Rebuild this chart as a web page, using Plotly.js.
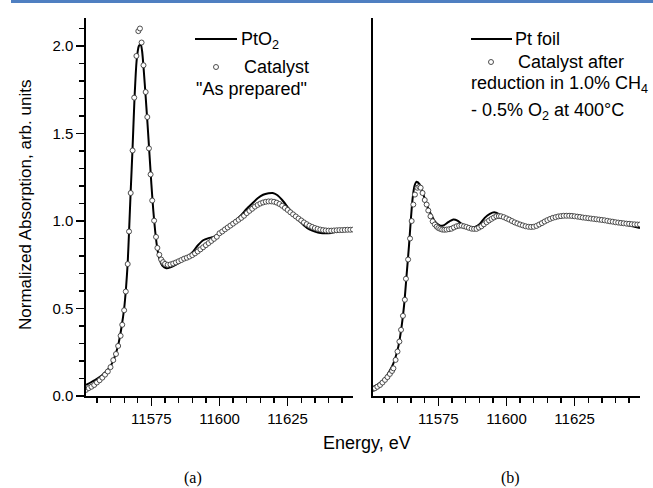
<!DOCTYPE html>
<html>
<head>
<meta charset="utf-8">
<script src="https://cdn.plot.ly/plotly-3.0.1.min.js"></script>
<style>html,body{margin:0;padding:0;background:#fff;}#chart{width:653px;height:488px;}</style>
</head>
<body>
<div id="chart"></div>
<script>
// ---- Panel (a): PtO2 reference (line) ----
const ptO2_x = [11551,11553,11555,11557,11559,11560.5,11562,11563,11564,11565,11565.7,11566.3,11566.8,11567.4,11568.1,11568.8,11569.6,11570.4,11571.1,11571.6,11572.2,11572.9,11573.6,11574.3,11575,11575.7,11576.4,11577.2,11578,11579,11580.5,11582,11584,11586,11588,11590,11592,11594,11596,11598,11600,11602,11604,11606,11608,11610,11612,11614,11616,11618,11619.5,11621,11623,11625,11627,11629,11631,11633,11635,11637,11639,11641,11643,11645,11647,11649];
const ptO2_y = [0.063,0.08,0.098,0.12,0.15,0.185,0.245,0.305,0.39,0.5,0.62,0.76,0.94,1.17,1.42,1.70,1.92,2.0,2.01,1.97,1.86,1.71,1.55,1.38,1.21,1.06,0.94,0.84,0.78,0.745,0.73,0.735,0.75,0.77,0.79,0.82,0.86,0.89,0.902,0.91,0.93,0.955,0.98,1.005,1.035,1.07,1.1,1.13,1.15,1.158,1.16,1.15,1.12,1.08,1.04,1.005,0.975,0.952,0.94,0.932,0.93,0.932,0.938,0.944,0.948,0.95];

// ---- Panel (a): catalyst "as prepared" (circles) ----
const catA_x = [11551,11552,11553,11554,11555,11556,11557,11558,11559,11560,11561,11562,11562.8,11563.7,11564.3,11565,11565.6,11566.3,11566.8,11567.4,11568.1,11568.7,11569.5,11570.2,11570.8,11571.4,11572.1,11572.9,11573.5,11574.1,11574.7,11575.3,11576,11576.7,11577.2,11577.9,11578.6,11579.3,11580,11581,11582,11583,11584,11585,11586,11587,11588,11589,11590,11591,11592,11593,11594,11595,11596,11597,11598,11599,11600,11601,11602,11603,11604,11605,11606,11607,11608,11609,11610,11611,11612,11613,11614,11615,11616,11617,11618,11619,11620,11621,11622,11623,11624,11625,11626,11627,11628,11629,11630,11631,11632,11633,11634,11635,11636,11637,11638,11639,11640,11641,11642,11643,11644,11645,11646,11647,11648,11649];
const catA_y = [0.035,0.045,0.053,0.063,0.077,0.09,0.105,0.122,0.14,0.165,0.205,0.24,0.286,0.344,0.407,0.49,0.597,0.754,0.94,1.16,1.403,1.705,1.943,2.085,2.10,2.02,1.89,1.737,1.594,1.415,1.266,1.117,1.002,0.909,0.846,0.807,0.78,0.765,0.755,0.75,0.752,0.757,0.763,0.77,0.777,0.785,0.79,0.797,0.805,0.815,0.826,0.838,0.85,0.862,0.874,0.886,0.898,0.91,0.93,0.94,0.952,0.963,0.974,0.985,0.996,1.007,1.018,1.03,1.045,1.058,1.07,1.082,1.092,1.1,1.106,1.11,1.112,1.112,1.11,1.105,1.097,1.087,1.075,1.063,1.05,1.038,1.026,1.014,1.003,0.992,0.982,0.973,0.966,0.96,0.955,0.951,0.948,0.946,0.945,0.945,0.946,0.947,0.948,0.948,0.949,0.95,0.95,0.951];

// ---- Panel (b): Pt foil reference (line) ----
const ptFoil_x = [11551,11553,11555.4,11557,11558.5,11560.3,11561.5,11562.5,11563.3,11564.2,11564.9,11565.5,11566.2,11567,11568.2,11569.5,11570.7,11572.3,11573.7,11575.5,11576.8,11578.6,11580.5,11582,11583.5,11586,11588.4,11590.2,11592,11593.9,11595.5,11597.5,11599.4,11602,11604.3,11606.5,11609.1,11612,11615.2,11618.5,11622.6,11626,11629.9,11633,11636,11639,11642.1,11645.5,11649];
const ptFoil_y = [0.05,0.068,0.10,0.14,0.187,0.282,0.397,0.531,0.683,0.855,1.008,1.122,1.199,1.224,1.208,1.151,1.094,1.037,0.998,0.974,0.974,0.993,1.008,1.002,0.983,0.966,0.966,0.983,1.018,1.041,1.05,1.037,1.018,0.998,0.985,0.972,0.966,0.982,1.008,1.026,1.037,1.032,1.021,1.012,1.004,0.995,0.985,0.973,0.96];

// ---- Panel (b): catalyst after reduction (circles) ----
const catB_x = [11551,11551.7,11552.6,11553.6,11554.5,11555.4,11556.3,11557.2,11558,11558.5,11559.3,11560,11560.7,11561.3,11562,11562.7,11563.1,11563.9,11564.6,11565.2,11565.8,11566.4,11567.3,11568,11568.5,11569.2,11570,11570.7,11571.3,11572.1,11572.9,11573.7,11574.4,11575,11575.7,11576.4,11577.2,11578,11578.9,11579.8,11580.7,11581.7,11582.6,11583.5,11584.4,11585.3,11586.2,11587.2,11588.1,11589,11589.9,11590.8,11591.7,11592.7,11593.6,11594.5,11595.4,11596.3,11597.2,11598,11599,11600,11601,11602,11603,11604,11605,11606,11607,11608,11609,11610,11611,11612,11613,11614,11615,11616,11617,11618,11619,11620,11621,11622,11623,11624,11625,11626,11627,11628,11629,11630,11631,11632,11633,11634,11635,11636,11637,11638,11639,11640,11641,11642,11643,11644,11645,11646,11647,11648,11649];
const catB_y = [0.04,0.044,0.053,0.063,0.077,0.092,0.108,0.126,0.143,0.158,0.206,0.254,0.311,0.378,0.458,0.55,0.67,0.78,0.90,1.0,1.094,1.151,1.19,1.195,1.19,1.16,1.12,1.094,1.06,1.027,0.998,0.98,0.968,0.96,0.955,0.951,0.95,0.951,0.953,0.956,0.963,0.97,0.973,0.974,0.97,0.966,0.961,0.956,0.955,0.955,0.962,0.97,0.981,0.993,1.003,1.012,1.02,1.027,1.028,1.027,1.022,1.015,1.008,1.0,0.992,0.986,0.98,0.975,0.97,0.967,0.966,0.967,0.972,0.98,0.988,0.997,1.005,1.012,1.018,1.022,1.026,1.028,1.03,1.03,1.03,1.029,1.027,1.025,1.023,1.02,1.018,1.016,1.014,1.012,1.01,1.008,1.006,1.004,1.001,0.998,0.996,0.993,0.991,0.989,0.987,0.985,0.984,0.982,0.981,0.98,0.98];

// ---- Axis / tick settings ----
const xRange = [11551, 11649];
const yRange = [0, 2.16];
const xMajorStart = 11575, xMajorStep = 25, xMinorStep = 5;
const yMajorStep = 0.5, yMinorStep = 0.1;

const FONT = 'Liberation Sans, Arial, sans-serif';
const lineStyle = {color: '#000', width: 2, shape: 'spline', smoothing: 0.6};
const markerStyle = {symbol: 'circle', size: 5, color: '#fff', line: {color: '#3a3a3a', width: 0.9}};

const traces = [
  {x: ptO2_x, y: ptO2_y, type: 'scatter', mode: 'lines', line: lineStyle, xaxis: 'x', yaxis: 'y', name: 'PtO2'},
  {x: catA_x, y: catA_y, type: 'scatter', mode: 'markers', marker: markerStyle, xaxis: 'x', yaxis: 'y', name: 'Catalyst'},
  {x: ptFoil_x, y: ptFoil_y, type: 'scatter', mode: 'lines', line: lineStyle, xaxis: 'x2', yaxis: 'y2', name: 'Pt foil'},
  {x: catB_x, y: catB_y, type: 'scatter', mode: 'markers', marker: markerStyle, xaxis: 'x2', yaxis: 'y2', name: 'Catalyst after'}
];

function xAxis(domain, anchor) {
  return {
    domain: domain, anchor: anchor, range: xRange,
    showline: true, linecolor: '#000', linewidth: 1.6, mirror: false,
    showgrid: false, zeroline: false,
    ticks: 'outside', ticklen: 8, tickwidth: 1.3, tickcolor: '#000',
    tickmode: 'linear', tick0: xMajorStart, dtick: xMajorStep, tickformat: 'd',
    minor: {ticks: 'outside', ticklen: 5, tickwidth: 1.3, tickcolor: '#000', dtick: xMinorStep, tick0: xMajorStart, showgrid: false},
    tickfont: {family: FONT, size: 15, color: '#000'}
  };
}

const P = (px) => (px - 86) / 554;      // pixel -> paper x
const Q = (py) => (396 - py) / 378;     // pixel -> paper y

const layout = {
  width: 653, height: 488,
  margin: {l: 86, r: 13, t: 18, b: 92},
  paper_bgcolor: '#fff', plot_bgcolor: '#fff',
  showlegend: false,
  xaxis: xAxis([0, 0.482], 'y'),
  xaxis2: xAxis([0.518, 1], 'y2'),
  yaxis: {
    domain: [0, 1], anchor: 'x', range: yRange,
    showline: true, linecolor: '#000', linewidth: 1.6,
    showgrid: false, zeroline: false,
    ticks: 'outside', ticklen: 8, tickwidth: 1.3, tickcolor: '#000',
    tickmode: 'linear', tick0: 0, dtick: yMajorStep, tickformat: '.1f',
    minor: {ticks: 'outside', ticklen: 5, tickwidth: 1.3, tickcolor: '#000', dtick: yMinorStep, tick0: 0, showgrid: false},
    tickfont: {family: FONT, size: 15, color: '#000'}
  },
  yaxis2: {
    domain: [0, 1], anchor: 'x2', matches: 'y', range: yRange,
    showline: true, linecolor: '#000', linewidth: 1.6,
    showgrid: false, zeroline: false, ticks: '', showticklabels: false
  },
  shapes: [
    // top blue rule
    {type: 'line', xref: 'paper', yref: 'paper', x0: P(11), x1: P(653), y0: Q(1.5), y1: Q(1.5), line: {color: '#4f7fc1', width: 3}},
    // legend samples, panel (a)
    {type: 'line', xref: 'paper', yref: 'paper', x0: P(195), x1: P(237), y0: Q(39), y1: Q(39), line: {color: '#000', width: 2}},
    {type: 'circle', xref: 'paper', yref: 'paper', x0: P(213.5), x1: P(218.5), y0: Q(69.5), y1: Q(64.5), line: {color: '#3a3a3a', width: 0.9}, fillcolor: '#fff'},
    // legend samples, panel (b)
    {type: 'line', xref: 'paper', yref: 'paper', x0: P(471), x1: P(512), y0: Q(39), y1: Q(39), line: {color: '#000', width: 2}},
    {type: 'circle', xref: 'paper', yref: 'paper', x0: P(488.5), x1: P(493.5), y0: Q(64.5), y1: Q(59.5), line: {color: '#3a3a3a', width: 0.9}, fillcolor: '#fff'}
  ],
  annotations: [
    {text: 'PtO<sub>2</sub>', xref: 'paper', yref: 'paper', x: P(239), y: Q(40), xanchor: 'left', yanchor: 'middle', showarrow: false, font: {family: FONT, size: 18, color: '#000'}},
    {text: 'Catalyst', xref: 'paper', yref: 'paper', x: P(242), y: Q(67), xanchor: 'left', yanchor: 'middle', showarrow: false, font: {family: FONT, size: 18, color: '#000'}},
    {text: '"As prepared"', xref: 'paper', yref: 'paper', x: P(194), y: Q(89), xanchor: 'left', yanchor: 'middle', showarrow: false, font: {family: FONT, size: 18, color: '#000'}},
    {text: 'Pt foil', xref: 'paper', yref: 'paper', x: P(513), y: Q(39), xanchor: 'left', yanchor: 'middle', showarrow: false, font: {family: FONT, size: 18, color: '#000'}},
    {text: 'Catalyst after', xref: 'paper', yref: 'paper', x: P(516), y: Q(62), xanchor: 'left', yanchor: 'middle', showarrow: false, font: {family: FONT, size: 18, color: '#000'}},
    {text: 'reduction in 1.0% CH<sub>4</sub>', xref: 'paper', yref: 'paper', x: P(469), y: Q(85), xanchor: 'left', yanchor: 'middle', showarrow: false, font: {family: FONT, size: 18, color: '#000'}},
    {text: '- 0.5% O<sub>2</sub> at 400°C', xref: 'paper', yref: 'paper', x: P(469), y: Q(111), xanchor: 'left', yanchor: 'middle', showarrow: false, font: {family: FONT, size: 18, color: '#000'}},
    {text: 'Normalized Absorption, arb. units', xref: 'paper', yref: 'paper', x: P(26), y: Q(205), xanchor: 'center', yanchor: 'middle', textangle: -90, showarrow: false, font: {family: FONT, size: 17, color: '#000'}},
    {text: 'Energy, eV', xref: 'paper', yref: 'paper', x: P(367), y: Q(443), xanchor: 'center', yanchor: 'middle', showarrow: false, font: {family: FONT, size: 18, color: '#000'}},
    {text: '(a)', xref: 'paper', yref: 'paper', x: P(193), y: Q(478), xanchor: 'center', yanchor: 'middle', showarrow: false, font: {family: 'Liberation Serif, Times New Roman, serif', size: 16, color: '#000'}},
    {text: '(b)', xref: 'paper', yref: 'paper', x: P(510), y: Q(478), xanchor: 'center', yanchor: 'middle', showarrow: false, font: {family: 'Liberation Serif, Times New Roman, serif', size: 16, color: '#000'}}
  ]
};

Plotly.newPlot('chart', traces, layout, {displayModeBar: false, staticPlot: true});
</script>
</body>
</html>
